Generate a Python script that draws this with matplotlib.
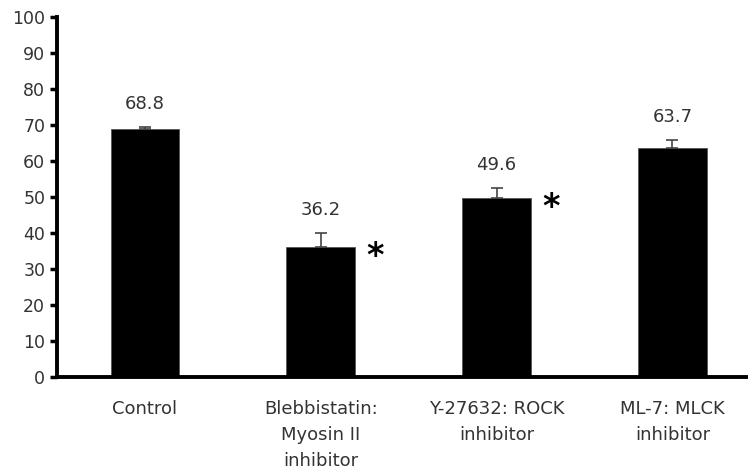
import matplotlib
matplotlib.use("Agg")
import matplotlib.pyplot as plt

# Bar heights, upper error bars and significance marks
categories = ["Control", "Blebbistatin:\nMyosin II\ninhibitor",
              "Y-27632: ROCK\ninhibitor", "ML-7: MLCK\ninhibitor"]
values = [68.8, 36.2, 49.6, 63.7]
errors = [0.7, 3.7, 3.0, 2.2]
significant = [False, True, True, False]
yticks = list(range(0, 101, 10))

plt.rcParams['font.family'] = ['DejaVu Sans']
text_color = "#333333"

fig = plt.figure(figsize=(7.48, 4.71), dpi=100)
ax = fig.add_axes([0.0762, 0.1996, 0.9238, 0.7644])

x = list(range(len(values)))
ax.bar(x, values, width=0.39, color="black", edgecolor="#555555", linewidth=0.6, zorder=2)
ax.errorbar(x, values, yerr=[[0] * len(errors), errors], fmt="none",
            ecolor="#444444", elinewidth=1.2, capsize=4, capthick=1.2, zorder=3)

for xi, v, e, sig in zip(x, values, errors, significant):
    ax.annotate(f"{v:.1f}", (xi, v + e), xytext=(0, 10), textcoords="offset points",
                ha="center", va="bottom", fontsize=13, color=text_color)
    if sig:
        ax.text(xi + 0.31, v - 2.6, "*", ha="center", va="center",
                fontsize=24, fontweight="bold", color="black")

ax.set_xlim(-0.5, 3.43)
ax.set_ylim(0, 100)
ax.set_yticks(yticks)
ax.set_xticks(x)
ax.set_xticklabels(categories, fontsize=13, color=text_color, linespacing=1.58)
ax.tick_params(axis="y", labelsize=12.5, labelcolor=text_color, width=2.5, length=5, direction="out")
ax.tick_params(axis="x", length=0, pad=16.5)

for side in ["top", "right"]:
    ax.spines[side].set_visible(False)
ax.spines["left"].set_linewidth(2.8)
ax.spines["bottom"].set_linewidth(2.8)

fig.savefig("out.png", dpi=100)
